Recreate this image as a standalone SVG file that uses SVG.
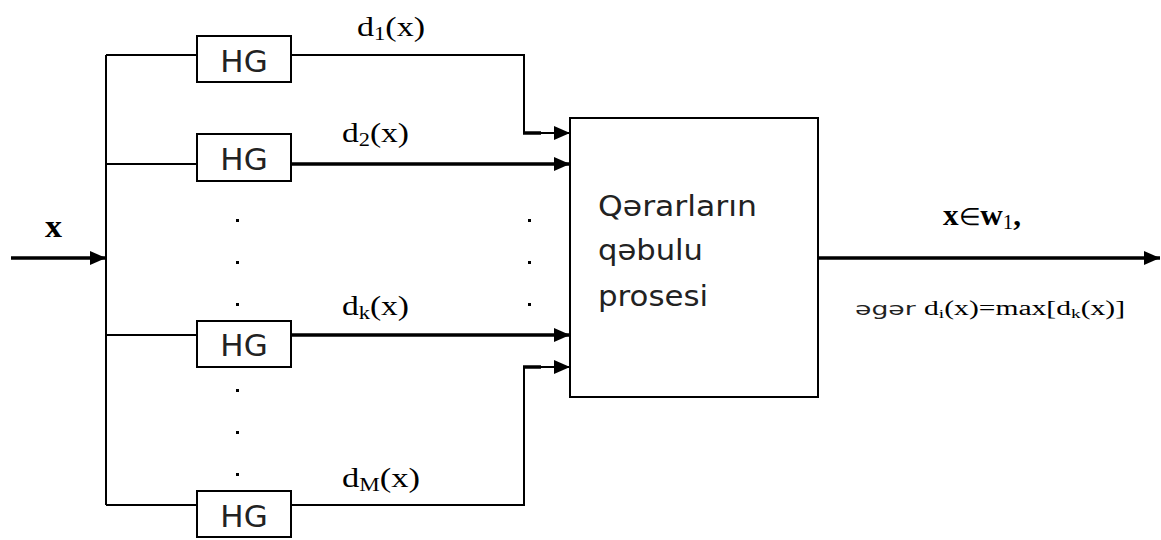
<svg xmlns="http://www.w3.org/2000/svg" width="1161" height="540" viewBox="0 0 1161 540">
<defs>
<style>
.ln{fill:none;stroke:#000;stroke-width:2}
.th{fill:none;stroke:#000;stroke-width:3.5}
.bx{fill:#fff;stroke:#000;stroke-width:2}
.hg{font-family:"DejaVu Sans","Liberation Sans",sans-serif;font-size:31px;fill:#222;text-anchor:middle}
.sr{font-family:"Liberation Serif","Times New Roman",serif;fill:#000}
.ss{font-family:"DejaVu Sans","Liberation Sans",sans-serif;fill:#222}
.dot{fill:#000}
</style>
<marker id="ah" markerUnits="userSpaceOnUse" viewBox="0 0 16 14" refX="16" refY="7" markerWidth="16" markerHeight="14" orient="auto">
<path d="M0,0 L16,7 L0,14 z" fill="#000"/>
</marker>
</defs>
<rect width="1161" height="540" fill="#fff"/>

<g id="connectors">
<path class="th" d="M11,258 H106" marker-end="url(#ah)"/>
<path class="ln" d="M106,55 V505"/>
<path class="ln" d="M106,55 H197"/>
<path class="ln" d="M106,164 H197"/>
<path class="ln" d="M106,335 H197"/>
<path class="ln" d="M106,505 H197"/>
<path class="ln" d="M291,55 H524 V133 H570" marker-end="url(#ah)"/>
<path class="th" d="M523,133 H541"/>
<path class="th" d="M291,164 H570" marker-end="url(#ah)"/>
<path class="th" d="M291,335 H570" marker-end="url(#ah)"/>
<path class="ln" d="M291,505 H524 V367 H570" marker-end="url(#ah)"/>
<path class="th" d="M523,367 H541"/>
<path class="th" d="M818,258 H1160" marker-end="url(#ah)"/>
</g>

<g id="hg1"><rect class="bx" x="197" y="36" width="94" height="46"/><text class="hg" x="244" y="72">HG</text></g>
<g id="hg2"><rect class="bx" x="197" y="134" width="94" height="47"/><text class="hg" x="244" y="170">HG</text></g>
<g id="hgk"><rect class="bx" x="197" y="321" width="94" height="46"/><text class="hg" x="244" y="356">HG</text></g>
<g id="hgM"><rect class="bx" x="197" y="491" width="94" height="46"/><text class="hg" x="244" y="527">HG</text></g>

<g id="decision">
<rect class="bx" x="570" y="118" width="248" height="279"/>
<text class="ss" x="598" y="216" font-size="29" textLength="159" lengthAdjust="spacingAndGlyphs">Qərarların</text>
<text class="ss" x="598" y="260" font-size="29" textLength="105" lengthAdjust="spacingAndGlyphs">qəbulu</text>
<text class="ss" x="598" y="306" font-size="29" textLength="110" lengthAdjust="spacingAndGlyphs">prosesi</text>
</g>

<g id="dots">
<rect class="dot" x="236" y="219" width="3" height="3"/>
<rect class="dot" x="236" y="261" width="3" height="3"/>
<rect class="dot" x="236" y="303" width="3" height="3"/>
<rect class="dot" x="236" y="389" width="3" height="3"/>
<rect class="dot" x="236" y="431" width="3" height="3"/>
<rect class="dot" x="236" y="473" width="3" height="3"/>
<rect class="dot" x="528" y="219" width="3" height="3"/>
<rect class="dot" x="528" y="261" width="3" height="3"/>
<rect class="dot" x="528" y="303" width="3" height="3"/>
</g>

<g id="labels">
<text class="sr" x="45" y="237" font-size="31" font-weight="bold" textLength="17" lengthAdjust="spacingAndGlyphs">x</text>
<text class="sr" x="357" y="36" font-size="27" textLength="68" lengthAdjust="spacingAndGlyphs">d<tspan font-size="18" dy="4">1</tspan><tspan dy="-4">(x)</tspan></text>
<text class="sr" x="342" y="142" font-size="27" textLength="67" lengthAdjust="spacingAndGlyphs">d<tspan font-size="18" dy="4">2</tspan><tspan dy="-4">(x)</tspan></text>
<text class="sr" x="342" y="315" font-size="27" textLength="67" lengthAdjust="spacingAndGlyphs">d<tspan font-size="18" dy="4">k</tspan><tspan dy="-4">(x)</tspan></text>
<text class="sr" x="342" y="487" font-size="27" textLength="78" lengthAdjust="spacingAndGlyphs">d<tspan font-size="18" dy="4">M</tspan><tspan dy="-4">(x)</tspan></text>
<text class="sr" x="943" y="225" font-size="30" font-weight="bold" textLength="78" lengthAdjust="spacingAndGlyphs">x<tspan font-weight="normal" font-size="24">∈</tspan>w<tspan font-weight="normal" font-size="20" dy="4">1</tspan><tspan dy="-4">,</tspan></text>
<text class="sr" x="855" y="315" font-size="20" textLength="270" lengthAdjust="spacingAndGlyphs"><tspan class="ss" font-size="18">əgər </tspan>d<tspan font-size="13" dy="3">i</tspan><tspan dy="-3">(x)=max[d</tspan><tspan font-size="13" dy="3">k</tspan><tspan dy="-3">(x)]</tspan></text>
</g>
</svg>
